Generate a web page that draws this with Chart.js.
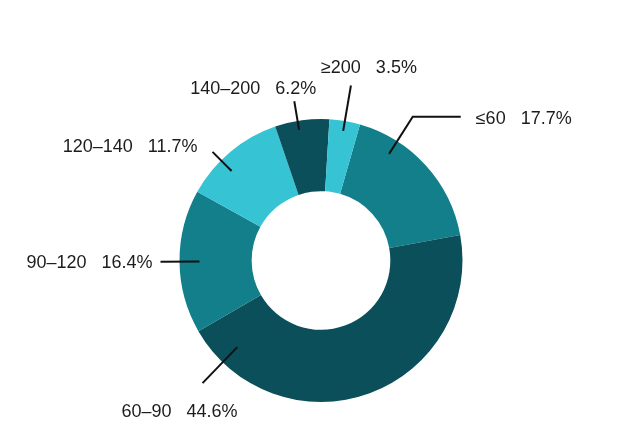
<!DOCTYPE html>
<html lang="zh">
<head>
<meta charset="UTF-8">
<style>
  html, body { margin: 0; padding: 0; background: #fff; }
  #wrap { width: 641px; height: 442px; position: relative; }
</style>
</head>
<body>
<div id="wrap"><canvas id="pie"></canvas></div>
<script src="https://cdn.jsdelivr.net/npm/chart.js@4/dist/chart.umd.min.js"></script>
<script>
// 数据
var categories = ['≤60', '60–90', '90–120', '120–140', '140–200', '≥200'];
var shares = [17.7, 44.6, 16.4, 11.7, 6.2, 3.5];
var colors = ['#127f8b', '#0b4f5b', '#127f8b', '#36c3d3', '#0b4f5b', '#36c3d3'];

// 引导线布局: 在扇区内的位置(0~1), 起点内缩, 线长, 水平折线, 文本偏移和对齐
var leaders = [
  { at: 0.26, inset: 15, len: 44, elbow: 48, dx: 15, dy: 2, align: 'left' },
  { at: 0.90, inset: 21, len: 50, elbow: 0, dx: -23, dy: 29, align: 'center' },
  { at: 0.50, inset: 20, len: 39, elbow: 0, dx: -8, dy: 1, align: 'right' },
  { at: 0.38, inset: 15, len: 27, elbow: 0, dx: -15, dy: -5, align: 'right' },
  { at: 0.42, inset: 9, len: 29, elbow: 0, dx: 22, dy: -12, align: 'right' },
  { at: 0.50, inset: 10, len: 46, elbow: 0, dx: 18, dy: -18, align: 'center' }
];

var leaderPlugin = {
  id: 'leaders',
  afterDatasetsDraw: function(chart) {
    var ctx = chart.ctx;
    var meta = chart.getDatasetMeta(0);
    ctx.save();
    ctx.font = '18px "Liberation Sans", Arial, sans-serif';
    ctx.fillStyle = '#1c1c1c';
    ctx.strokeStyle = '#111';
    ctx.lineWidth = 2;
    ctx.textBaseline = 'middle';
    meta.data.forEach(function(arc, i) {
      var p = arc.getProps(['x', 'y', 'startAngle', 'endAngle', 'outerRadius'], true);
      var cfg = leaders[i];
      var a = p.startAngle + (p.endAngle - p.startAngle) * cfg.at;
      var r0 = p.outerRadius - cfg.inset;
      var r1 = r0 + cfg.len;
      var x0 = p.x + Math.cos(a) * r0, y0 = p.y + Math.sin(a) * r0;
      var x1 = p.x + Math.cos(a) * r1, y1 = p.y + Math.sin(a) * r1;
      ctx.beginPath();
      ctx.moveTo(x0, y0);
      ctx.lineTo(x1, y1);
      if (cfg.elbow) {
        x1 += cfg.elbow;
        ctx.lineTo(x1, y1);
      }
      ctx.stroke();
      ctx.textAlign = cfg.align;
      ctx.fillText(categories[i] + '   ' + shares[i] + '%', x1 + cfg.dx, y1 + cfg.dy);
    });
    ctx.restore();
  }
};

new Chart(document.getElementById('pie'), {
  type: 'doughnut',
  data: {
    labels: categories,
    datasets: [{
      data: shares,
      backgroundColor: colors,
      borderWidth: 0
    }]
  },
  options: {
    responsive: true,
    maintainAspectRatio: false,
    animation: false,
    cutout: '49%',
    rotation: 16,
    layout: { padding: { top: 119, bottom: 40, left: 1, right: 0 } },
    plugins: {
      legend: { display: false },
      tooltip: { enabled: false }
    }
  },
  plugins: [leaderPlugin]
});
</script>
</body>
</html>
